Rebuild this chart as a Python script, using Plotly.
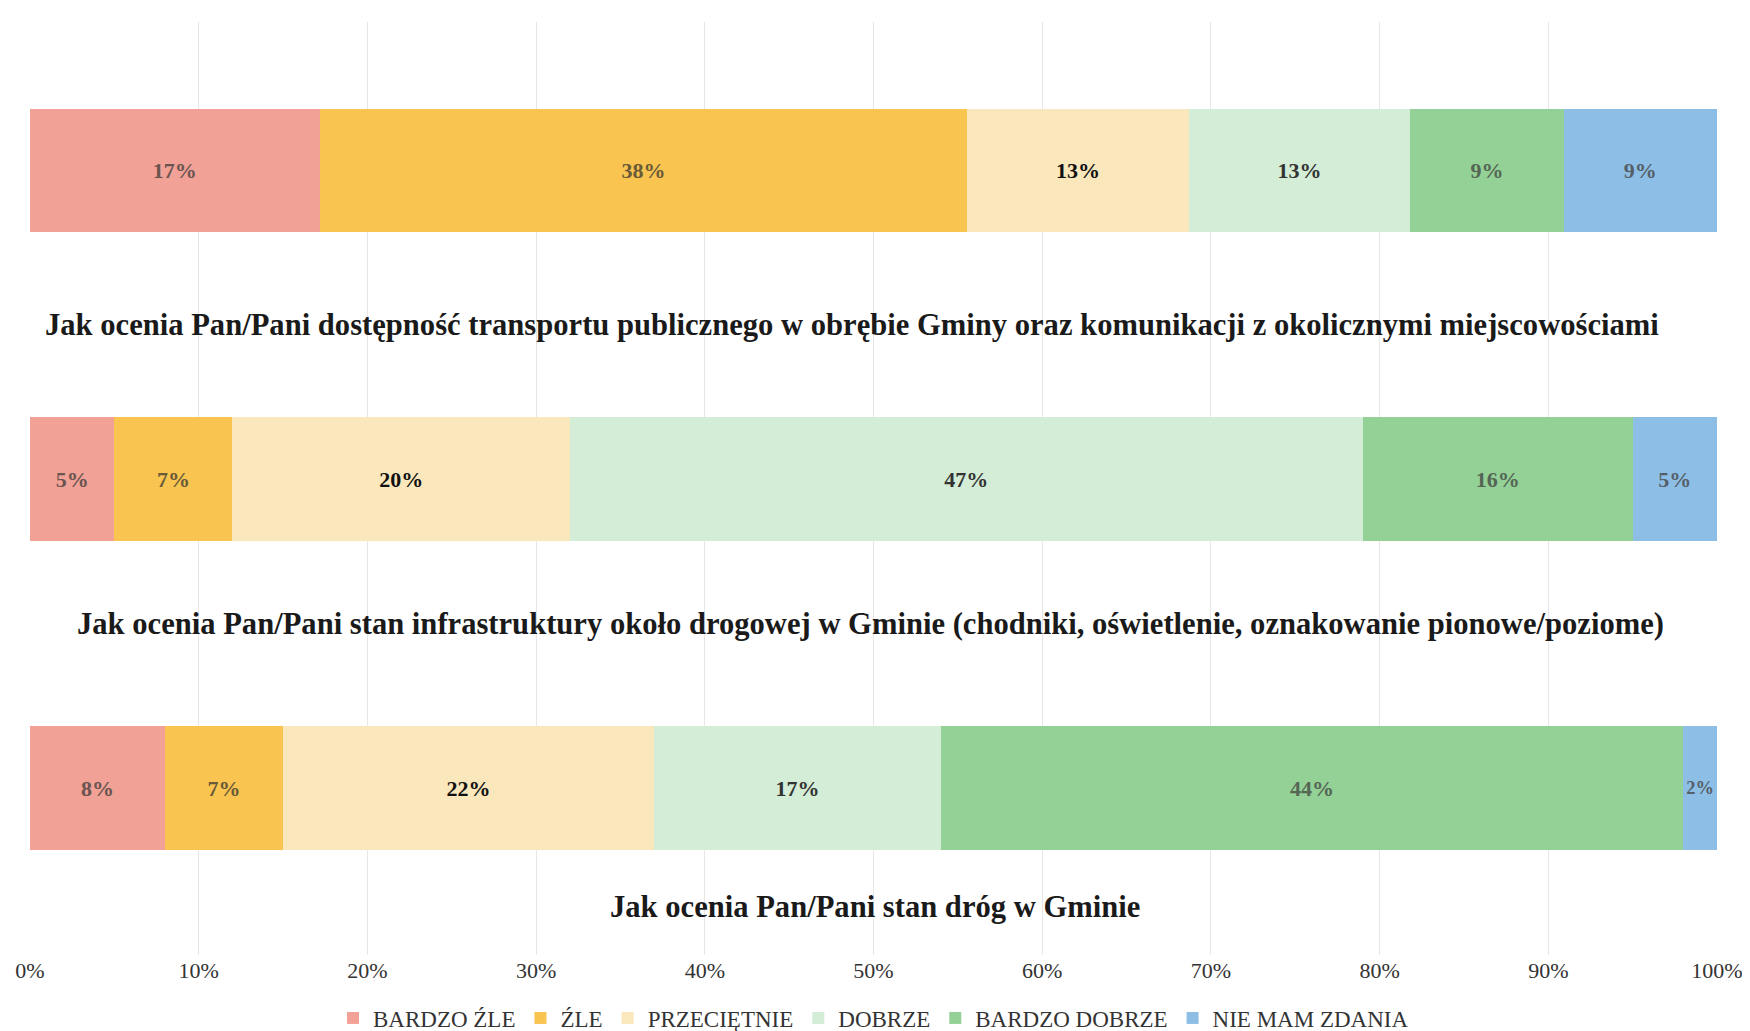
import plotly.graph_objects as go

# questions, top to bottom
QUESTIONS = [
    "Jak ocenia Pan/Pani dostępność transportu publicznego w obrębie Gminy oraz komunikacji z okolicznymi miejscowościami",
    "Jak ocenia Pan/Pani stan infrastruktury około drogowej w Gminie (chodniki, oświetlenie, oznakowanie pionowe/poziome)",
    "Jak ocenia Pan/Pani stan dróg w Gminie",
]

ANSWERS = ["BARDZO ŹLE", "ŹLE", "PRZECIĘTNIE", "DOBRZE", "BARDZO DOBRZE", "NIE MAM ZDANIA"]

# percent of answers per question (same order as QUESTIONS)
bardzo_zle = [17, 5, 8]
zle = [38, 7, 7]
przecietnie = [13, 20, 22]
dobrze = [13, 47, 17]
bardzo_dobrze = [9, 16, 44]
nie_mam_zdania = [9, 5, 2]

SERIES = [bardzo_zle, zle, przecietnie, dobrze, bardzo_dobrze, nie_mam_zdania]
COLORS = ["#F2A197", "#F9C44F", "#FAE7BC", "#D3EDD6", "#93D197", "#8DBFE6"]
TEXT_COLORS = ["#6a5550", "#6a5a3a", "#111111", "#333333", "#556655", "#555f6a"]

SERIF = "Liberation Serif, Times New Roman, serif"

fig = go.Figure()
for name, vals, color, tcolor in zip(ANSWERS, SERIES, COLORS, TEXT_COLORS):
    fig.add_trace(
        go.Bar(
            y=QUESTIONS,
            x=vals,
            name=name,
            orientation="h",
            marker=dict(color=color, line=dict(width=0)),
            text=[f"{v}%" for v in vals],
            textposition="inside",
            insidetextanchor="middle",
            textangle=0,
            textfont=dict(family=SERIF, size=22, color=tcolor, weight="bold"),
            width=0.4,
            hoverinfo="skip",
        )
    )

# question titles sit below their bars
offsets = [0.5, 0.47, 0.386]
xpos = [0.487, 0.498, 0.501]
for i, (q, off, xp) in enumerate(zip(QUESTIONS, offsets, xpos)):
    fig.add_annotation(
        x=xp, xref="paper", y=i + off, yref="y",
        text=f"<b>{q}</b>", showarrow=False,
        font=dict(family=SERIF, size=30.6, color="#1a1a1a"),
    )

fig.update_layout(
    barmode="stack",
    barnorm="percent",
    width=1750,
    height=1031,
    paper_bgcolor="white",
    plot_bgcolor="white",
    margin=dict(l=22, r=41, t=14, b=84, autoexpand=False),
    showlegend=True,
    legend=dict(
        orientation="h", x=0.5, xanchor="center", y=-0.0675, yanchor="middle",
        font=dict(family=SERIF, size=23, color="#333333"),
        itemwidth=30, traceorder="normal",
    ),
    xaxis=dict(
        range=[0, 100],
        tickvals=[0, 10, 20, 30, 40, 50, 60, 70, 80, 90, 100],
        ticktext=[f"{t}%" for t in range(0, 101, 10)],
        showgrid=True, gridcolor="#e6e6e6", gridwidth=1,
        zeroline=False, showline=False, automargin=False,
        tickfont=dict(family=SERIF, size=22, color="#333333"),
        ticks="", fixedrange=True,
    ),
    yaxis=dict(
        type="category",
        categoryorder="array",
        categoryarray=QUESTIONS,
        range=[2.54, -0.48],
        showticklabels=False, showgrid=False, zeroline=False,
        automargin=False, fixedrange=True,
    ),
)

fig.write_html("out.html", config={"displayModeBar": False})
